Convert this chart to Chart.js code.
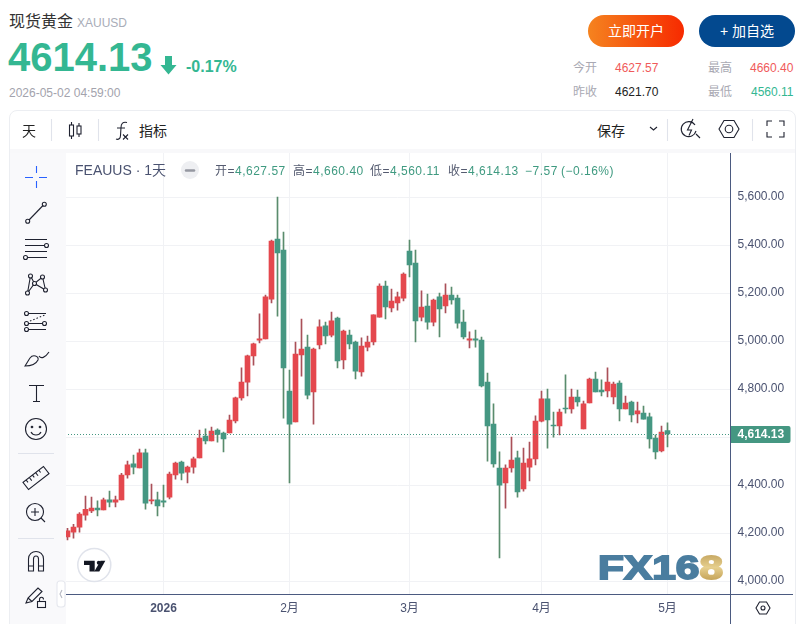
<!DOCTYPE html>
<html>
<head>
<meta charset="utf-8">
<title>现货黄金 XAUUSD</title>
<script src="https://cdn.jsdelivr.net/npm/chart.js@4/dist/chart.umd.js"></script>
<style>
  html, body { margin: 0; padding: 0; background: #fff; overflow: hidden; }
  body { width: 804px; height: 624px; position: relative; font-family: "Liberation Sans", "Noto Sans CJK SC", sans-serif; }
  .abs { position: absolute; white-space: nowrap; }
  .title { left: 9px; top: 12px; font-size: 16px; line-height: 20px; color: #333; }
  .symbol { left: 77px; top: 15px; font-size: 12px; line-height: 16px; color: #a9adb8; }
  .price { left: 8px; top: 35px; font-size: 40px; line-height: 44px; font-weight: bold; color: #34b792; }
  .change { left: 186px; top: 57px; font-size: 16px; line-height: 20px; font-weight: bold; color: #34b792; }
  .stamp { left: 9px; top: 85px; font-size: 12px; line-height: 16px; color: #a3a3ad; }
  .btn { top: 15px; width: 96px; height: 32px; border-radius: 16px; color: #fff; font-size: 14px; line-height: 32px; text-align: center; }
  .btn-open { left: 588px; background: linear-gradient(90deg, #f5831f, #f72a00); }
  .btn-add { left: 699px; background: #03498f; }
  .stat { font-size: 12px; line-height: 16px; }
  .card { left: 9px; top: 110px; width: 785px; height: 530px; border: 1px solid #eceef2; border-radius: 8px; box-sizing: content-box; background: #fff; }
  .band { left: 10px; top: 149px; width: 785px; height: 4px; background: #f8f8fa; }
  .side { left: 10px; top: 153px; width: 56px; height: 471px; background: #f9f9fb; z-index: 3; }
  .tool-text { top: 122px; font-size: 14px; line-height: 18px; color: #222; z-index: 4; }
  #priceChart { position: absolute; left: 60px; top: 150px; z-index: 2; }
  .axis-v { left: 730px; top: 153px; width: 1px; height: 471px; background: #4b5a80; z-index: 3; }
  .axis-h { left: 66px; top: 594px; width: 727px; height: 1px; background: #4b5a80; z-index: 3; }
  .legend { top: 163px; font-size: 12px; line-height: 16px; letter-spacing: .5px; color: #555b70; z-index: 4; }
  .legend b { font-weight: normal; color: #3f9a80; }
  .legend-name { left: 75px; top: 161px; font-size: 14px; line-height: 18px; color: #4a5270; z-index: 4; }
  .overlay { position: absolute; left: 0; top: 0; z-index: 5; }
</style>
</head>
<body>
  <div class="abs title">现货黄金</div>
  <div class="abs symbol">XAUUSD</div>
  <div class="abs price">4614.13</div>
  <div class="abs change">-0.17%</div>
  <div class="abs stamp">2026-05-02 04:59:00</div>
  <div class="abs btn btn-open">立即开户</div>
  <div class="abs btn btn-add">+ 加自选</div>

  <div class="abs stat" style="left:573px;top:60px;color:#a9a9b3">今开</div>
  <div class="abs stat" style="left:615px;top:60px;color:#f05a5a">4627.57</div>
  <div class="abs stat" style="left:708px;top:60px;color:#a9a9b3">最高</div>
  <div class="abs stat" style="left:750px;top:60px;color:#f05a5a">4660.40</div>
  <div class="abs stat" style="left:573px;top:84px;color:#a9a9b3">昨收</div>
  <div class="abs stat" style="left:615px;top:84px;color:#222">4621.70</div>
  <div class="abs stat" style="left:708px;top:84px;color:#a9a9b3">最低</div>
  <div class="abs stat" style="left:751px;top:84px;color:#34b792">4560.11</div>

  <div class="abs card"></div>
  <div class="abs band"></div>
  <div class="abs side"></div>

  <div class="abs tool-text" style="left:22px">天</div>
  <div class="abs tool-text" style="left:139px">指标</div>
  <div class="abs tool-text" style="left:597px">保存</div>

  <canvas id="priceChart" width="735" height="474" style="width:735px;height:474px"></canvas>
  <div class="abs axis-v"></div>
  <div class="abs axis-h"></div>

  <div class="abs legend-name">FEAUUS · 1天</div>
  <div class="abs legend" style="left:215px">开=<b>4,627.57</b></div>
  <div class="abs legend" style="left:293px">高=<b>4,660.40</b></div>
  <div class="abs legend" style="left:370px">低=<b>4,560.11</b></div>
  <div class="abs legend" style="left:448px">收=<b>4,614.13</b></div>
  <div class="abs legend" style="left:525px"><b>−7.57</b></div>
  <div class="abs legend" style="left:561px"><b>(−0.16%)</b></div>

  <!-- toolbar icons, logos -->
  <svg class="overlay" width="804" height="624" viewBox="0 0 804 624" fill="none" stroke="#1f2230" stroke-width="1.1">
    <defs>
      <linearGradient id="gold" x1="0" y1="0" x2="0" y2="1">
        <stop offset="0" stop-color="#b9974f"/><stop offset=".5" stop-color="#e6cf8e"/><stop offset="1" stop-color="#b58f3f"/>
      </linearGradient>
    </defs>

    <!-- price arrow -->
    <path d="M165 56h7v9h4.500l-8 9.500-8-9.500h4.500z" fill="#34b792" stroke="none"/>

    <!-- legend collapse button -->
    <circle cx="190" cy="170" r="9" fill="#eeeff2" stroke="none"/>
    <path d="M186 170.500h8" stroke="#9598a1" stroke-width="2.500" stroke-linecap="round"/>

    <!-- top toolbar -->
    <g stroke="#e0e3eb"><path d="M51.500 119v22M98.500 119v22M667.500 119v22M752.500 119v22"/></g>
    <path d="M71.500 122v3M71.500 136v3M79 123v3M79 134v3"/>
    <rect x="69.500" y="125" width="4" height="11"/><rect x="77" y="126" width="4" height="8"/>
    <path d="M127 122.500c-4-1-6 1-6 5l-.5 8c0 3-2 4.500-4.500 3.500M117 128h8M123 134.500l5 5M128 134.500l-5 5"/>
    <path d="M650 127l3.500 3 3.500-3"/>
    <path d="M695 125a7.500 7.500 0 1 0 1 6M696 134l4 4M690 125l-2.500 5h4l-2.500 5.500M693 119l-3 6"/>
    <path d="M719 129l5-8.500h10l5 8.500-5 8.500h-10z"/><circle cx="729" cy="129" r="3.800"/>
    <path d="M767 126v-5h5M779 121h5v5M784 132v5h-5M772 137h-5v-5"/>

    <!-- left toolbar -->
    <path stroke="#2962ff" d="M25 177.500h8M39 177.500h8M36.500 166v7M36.500 181v7"/>
    <path d="M29 220l14-14.500"/><circle cx="27.700" cy="221.300" r="2"/><circle cx="44.300" cy="204.300" r="2"/>
    <path d="M25 239.500h22M25 245.500h20M25 251.500h22M28 257.500h19"/><circle cx="46.500" cy="245.500" r="2"/><circle cx="25.500" cy="257.500" r="2"/>
    <path d="M27.500 293l3-17 4 7.500 8-6.500 3 13-11-6.500z"/>
    <circle cx="27.500" cy="293" r="2" fill="#f9f9fb"/><circle cx="30.500" cy="276" r="2" fill="#f9f9fb"/><circle cx="34.500" cy="283.500" r="2" fill="#f9f9fb"/><circle cx="42.500" cy="277" r="2" fill="#f9f9fb"/><circle cx="45.500" cy="290" r="2" fill="#f9f9fb"/>
    <path d="M29 313.500h17M29 323.500h13M29 329.500h17"/><path stroke-dasharray="1.500 2" d="M30 321l15-6"/>
    <circle cx="26.500" cy="313.500" r="2"/><circle cx="26.500" cy="323.500" r="2"/><circle cx="26.500" cy="329.500" r="2"/><circle cx="44.500" cy="323.500" r="2"/>
    <path d="M25 366c7 0 11-2 13-6 1-4-5-6-8-2-2 3-3 5-5 8zM39 356c2 3 6 2 10-4"/>
    <path d="M29 385.500h15M36.500 385.500v16M33 401.500h7"/>
    <circle cx="36" cy="429" r="10.500"/><circle cx="32" cy="427" r=".8"/><circle cx="40" cy="427" r=".8"/><path d="M31 432c2 4 8 4 10 0"/>
    <path stroke="#e0e3eb" d="M18 453.500h36M18 538.500h36"/>
    <g transform="rotate(-38 36 478)"><rect x="23" y="473.500" width="26" height="9"/><path d="M27 473.500v3M31 473.500v4M35 473.500v3M39 473.500v4M43 473.500v3"/></g>
    <circle cx="35" cy="512" r="8.500"/><path d="M31 512h8M35 508v8M41 518l4 4"/>
    <path d="M28.500 571v-12c0-10 15-10 15 0v12h-5v-12c0-4-5-4-5 0v12zM28.500 566h5M38.500 566h5"/>
    <path d="M26 603l2-5 10-10 4 3.500-10 10zM28 598l4 3.500"/>
    <rect x="37.500" y="601.500" width="8" height="6"/><path d="M39.500 601.500v-2c0-3 4-3 4 0"/>
    <rect x="57" y="581" width="8" height="26" rx="3" stroke="#e6e8ee" fill="#fff"/><path stroke="#b6b9c3" d="M62 590l-2 4 2 4"/>

    <!-- settings hexagon under the price axis -->
    <path d="M756 608l3.500-6h7l3.500 6-3.500 6h-7z"/><circle cx="763" cy="608" r="2"/>

    <!-- tradingview mark -->
    <circle cx="94.300" cy="565" r="16.500" fill="#fff" stroke="#e0e3eb" stroke-width="1.500"/>
    <path fill="#131722" stroke="none" d="M84 560.700h10.700v10.700h-5.200v-6.500h-5.500z"/>
    <circle cx="98.800" cy="562.700" r="2" fill="#131722" stroke="none"/>
    <path fill="#131722" stroke="none" d="M100.500 560.700h4.800l-6 10.700h-5z"/>

    <!-- watermark -->
    <text x="598" y="579" font-family="Liberation Sans" font-weight="bold" font-size="33" stroke="#4a7d9f" stroke-width="1.800" fill="#4a7d9f" textLength="125" lengthAdjust="spacingAndGlyphs">FX16<tspan fill="url(#gold)" stroke="url(#gold)">8</tspan></text>
  </svg>

<script>
// Daily candles, oldest first
const categories = [
  '12-09','12-10','12-11','12-12','12-15','12-16','12-17','12-18','12-19','12-22','12-23','12-24','12-26','12-29','12-30','12-31',
  '01-02','01-05','01-06','01-07','01-08','01-09','01-12','01-13','01-14','01-15','01-16','01-19','01-20','01-21','01-22','01-23','01-26','01-27','01-28','01-29','01-30',
  '02-02','02-03','02-04','02-05','02-06','02-09','02-10','02-11','02-12','02-13','02-16','02-17','02-18','02-19','02-20','02-23','02-24','02-25','02-26','02-27',
  '03-02','03-03','03-04','03-05','03-06','03-09','03-10','03-11','03-12','03-13','03-16','03-17','03-18','03-19','03-20','03-23','03-24','03-25','03-26','03-27','03-30','03-31',
  '04-01','04-02','04-06','04-07','04-08','04-09','04-10','04-13','04-14','04-15','04-16','04-17','04-20','04-21','04-22','04-23','04-24','04-27','04-28','04-29','04-30',
  '05-01',
  // empty room right of the last candle
  '05-04','05-05','05-06','05-07','05-08','05-11','05-12','05-13','05-14','05-15'
];

const opens = [
  4185, 4205, 4226, 4276, 4293, 4305, 4297, 4339, 4330, 4339,
  4443, 4489, 4472, 4535, 4335, 4339, 4335, 4351, 4443, 4497,
  4455, 4476, 4514, 4605, 4585, 4630, 4618, 4618, 4668, 4764,
  4830, 4939, 5005, 5010, 5176, 5426, 5380, 4793, 4664, 4943,
  4976, 4789, 4985, 5064, 5026, 5097, 4922, 5026, 4997, 4872,
  4976, 4997, 5101, 5230, 5139, 5160, 5180, 5376, 5326, 5101,
  5147, 5080, 5185, 5147, 5193, 5180, 5080, 5005, 5010, 5005,
  4830, 4655, 4472, 4410, 4472, 4514, 4385, 4476, 4510, 4667,
  4760, 4651, 4647, 4722, 4718, 4768, 4635, 4743, 4843, 4797,
  4793, 4768, 4826, 4718, 4747, 4697, 4701, 4685, 4597, 4543,
  4627.57
];
const highs = [
  4221, 4237, 4286, 4355, 4351, 4335, 4347, 4376, 4355, 4450,
  4501, 4526, 4551, 4551, 4405, 4372, 4401, 4455, 4497, 4501,
  4480, 4518, 4630, 4635, 4643, 4635, 4622, 4693, 4768, 4889,
  4943, 4993, 5114, 5193, 5422, 5601, 5455, 4880, 4997, 5093,
  5026, 4972, 5089, 5080, 5122, 5101, 5047, 5047, 5001, 5014,
  5022, 5110, 5239, 5251, 5218, 5205, 5285, 5422, 5380, 5210,
  5197, 5176, 5201, 5239, 5226, 5193, 5130, 5039, 5047, 5018,
  4868, 4739, 4539, 4485, 4601, 4543, 4555, 4580, 4689, 4793,
  4801, 4705, 4718, 4860, 4801, 4797, 4751, 4847, 4872, 4839,
  4889, 4830, 4835, 4772, 4751, 4747, 4730, 4701, 4610, 4647,
  4660.40
];
const lows = [
  4172, 4180, 4205, 4255, 4286, 4272, 4297, 4310, 4310, 4339,
  4430, 4447, 4472, 4301, 4322, 4272, 4310, 4343, 4426, 4422,
  4410, 4451, 4514, 4572, 4585, 4580, 4539, 4618, 4660, 4755,
  4772, 4901, 4993, 5010, 5160, 5105, 4680, 4410, 4664, 4855,
  4760, 4655, 4968, 4989, 5018, 4889, 4885, 4968, 4843, 4855,
  4960, 4985, 5101, 5093, 5122, 5130, 5168, 5268, 4997, 5085,
  5051, 5064, 5018, 5118, 5155, 5055, 5010, 4972, 4976, 4810,
  4501, 4476, 4097, 4305, 4455, 4351, 4376, 4418, 4485, 4664,
  4555, 4601, 4610, 4701, 4701, 4730, 4635, 4743, 4789, 4772,
  4768, 4739, 4668, 4718, 4664, 4660, 4676, 4555, 4510, 4539,
  4560.11
];
const closes = [
  4210, 4226, 4280, 4300, 4305, 4297, 4339, 4330, 4339, 4443,
  4485, 4476, 4535, 4326, 4339, 4314, 4330, 4447, 4493, 4451,
  4476, 4510, 4597, 4585, 4626, 4612, 4593, 4672, 4764, 4830,
  4939, 4989, 5010, 5185, 5418, 5368, 4889, 4655, 4947, 4968,
  4776, 4968, 5060, 5022, 5085, 4918, 5043, 4989, 4876, 4980,
  4997, 5110, 5230, 5143, 5168, 5185, 5280, 5318, 5085, 5143,
  5080, 5172, 5135, 5193, 5172, 5076, 5018, 5010, 5005, 4814,
  4647, 4489, 4401, 4472, 4505, 4372, 4493, 4510, 4668, 4760,
  4672, 4647, 4705, 4718, 4768, 4747, 4739, 4843, 4789, 4789,
  4830, 4822, 4718, 4743, 4693, 4710, 4676, 4593, 4539, 4621.70,
  4614.13
];

const priceTicks = [4000, 4200, 4400, 4600, 4800, 5000, 5200, 5400, 5600];
const monthTicks = ['01-02', '02-02', '03-02', '04-01', '05-01'];
const monthLabels = ['2026', '2月', '3月', '4月', '5月'];
const lastPrice = 4614.13;

const RED = '#e4484e';
const GREEN = '#459782';
const RED_WICK = '#aa5059';
const GREEN_WICK = '#5a8c6d';
const LABEL = '#4a5270';
const GRID = '#f1f2f5';
const FONT = '"Liberation Sans", "Noto Sans CJK SC", sans-serif';

const isUp = i => closes[i] >= opens[i];

// Dotted last-price line and the tag sitting on the price axis
const lastPricePlugin = {
  id: 'lastPrice',
  afterDraw(chart) {
    const { ctx, chartArea, scales } = chart;
    const y = Math.round(scales.y.getPixelForValue(lastPrice));
    ctx.save();
    ctx.strokeStyle = GREEN;
    ctx.lineWidth = 1;
    ctx.setLineDash([1, 2]);
    ctx.beginPath();
    ctx.moveTo(Math.ceil(chartArea.left), y + 0.5);
    ctx.lineTo(Math.floor(chartArea.right), y + 0.5);
    ctx.stroke();
    ctx.setLineDash([]);
    ctx.fillStyle = GREEN;
    ctx.beginPath();
    ctx.roundRect(chartArea.right, y - 8, 60, 17, [0, 2, 2, 0]);
    ctx.fill();
    ctx.fillStyle = '#fff';
    ctx.font = 'bold 12px ' + FONT;
    ctx.textAlign = 'left';
    ctx.textBaseline = 'middle';
    ctx.fillText(lastPrice.toLocaleString('en-US', { minimumFractionDigits: 2 }), chartArea.right + 7, y + 1);
    ctx.restore();
  }
};

new Chart(document.getElementById('priceChart'), {
  type: 'bar',
  plugins: [lastPricePlugin],
  data: {
    labels: categories,
    datasets: [
      {
        label: 'body',
        data: opens.map((o, i) => [o, closes[i]]),
        backgroundColor: opens.map((o, i) => (isUp(i) ? RED : GREEN)),
        barThickness: 5,
        grouped: false,
        order: 1
      },
      {
        label: 'wick',
        data: lows.map((l, i) => [l, highs[i]]),
        backgroundColor: lows.map((l, i) => (isUp(i) ? RED_WICK : GREEN_WICK)),
        barThickness: 1,
        grouped: false,
        order: 2
      }
    ]
  },
  options: {
    responsive: false,
    animation: false,
    layout: { padding: { left: 4.5, top: 3, right: 0, bottom: 0 } },
    plugins: { legend: { display: false }, tooltip: { enabled: false } },
    scales: {
      x: {
        type: 'category',
        offset: true,
        afterBuildTicks: scale => {
          scale.ticks = monthTicks.map(d => ({ value: categories.indexOf(d) }));
        },
        afterFit: scale => { scale.height = 30; },
        grid: { color: GRID, offset: false, tickLength: 0, drawTicks: false },
        border: { display: false },
        ticks: {
          autoSkip: false,
          maxRotation: 0,
          padding: 7,
          color: LABEL,
          font: ctx => ({ family: FONT, size: 12, weight: ctx.index === 0 ? 'bold' : 'normal' }),
          callback: (value, i) => monthLabels[i]
        }
      },
      y: {
        position: 'right',
        min: 3947.08,
        max: 5784.58,
        afterBuildTicks: scale => {
          scale.ticks = priceTicks.map(v => ({ value: v }));
        },
        afterFit: scale => {
          scale.width = 64.5;
          // no room reserved for the first and last tick label
          scale.paddingTop = 0;
          scale.paddingBottom = 0;
        },
        grid: { color: GRID, drawTicks: false, tickLength: 0 },
        border: { display: false },
        ticks: {
          padding: 7,
          labelOffset: -1,
          color: LABEL,
          font: { family: FONT, size: 12 },
          callback: v => v.toLocaleString('en-US', { minimumFractionDigits: 2 })
        }
      }
    }
  }
});
</script>
</body>
</html>
